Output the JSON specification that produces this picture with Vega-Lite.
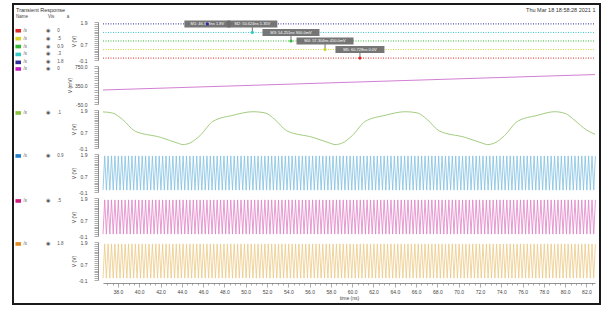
{
"$schema": "https://vega.github.io/schema/vega-lite/v6.json",
"width": 587, "height": 300,
"autosize": {"type": "none"},
"padding": {"left": 13, "top": 4, "right": 7, "bottom": 5},
"background": "white",
"title": {"text": "Transient Response", "anchor": "start", "frame": "group", "offset": -9, "dx": 3, "fontSize": 5.5, "fontWeight": "normal", "color": "#333", "font": "Liberation Sans"},
"config": {
  "view": {"stroke": "#1a1a1a", "strokeWidth": 2},
  "font": "Liberation Sans",
  "axis": {"grid": false, "labelFontSize": 5, "titleFontSize": 5, "titleFontWeight": "normal", "labelColor": "#444", "titleColor": "#444", "domainColor": "#777", "tickColor": "#777", "domainWidth": 0.8, "tickWidth": 0.6, "labelOverlap": false, "labelFlush": false, "labelBound": false},
  "legend": {"padding": 0, "labelFontSize": 4.5, "labelColor": "#555", "symbolSize": 16, "symbolType": "M-1.4,-0.9H1.4V0.9H-1.4Z", "labelOffset": 3, "rowPadding": 1.9, "titleFontSize": 4.5, "titleFontWeight": "normal", "titleColor": "#444", "symbolStrokeWidth": 0}
},
"datasets": {
  "lv": [{"s":"b","t":36.6,"v":1.8},{"s":"b","t":82.8,"v":1.8},{"s":"c","t":36.6,"v":1.35},{"s":"c","t":82.8,"v":1.35},{"s":"g","t":36.6,"v":0.9},{"s":"g","t":82.8,"v":0.9},{"s":"y","t":36.6,"v":0.45},{"s":"y","t":82.8,"v":0.45},{"s":"r","t":36.6,"v":0},{"s":"r","t":82.8,"v":0}],
  "mk": [{"m":"M1","s":"b","t":46.4,"v":1.8,"lab":"M1: 46.578ns 1.8V"},{"m":"M2","s":"c","t":50.624,"v":1.35,"lab":"M2: 50.624ns 1.35V"},{"m":"M3","s":"g","t":54.251,"v":0.9,"lab":"M3: 54.251ns 900.0mV"},{"m":"M4","s":"y","t":57.45,"v":0.45,"lab":"M4: 57.304ns 450.0mV"},{"m":"M5","s":"r","t":60.728,"v":0,"lab":"M5: 60.728ns 0.0V"}],
  "p2": [{"t":36.6,"v":245},{"t":82.8,"v":570}],
  "p3": [{"t":36.6,"v":1.8},{"t":37.5,"v":1.74},{"t":38.44,"v":1.4},{"t":39.57,"v":0.8},{"t":42.01,"v":0.46},{"t":43.7,"v":0.14},{"t":44.08,"v":0.08},{"t":44.76,"v":0.16},{"t":45.7,"v":0.55},{"t":46.92,"v":1.3},{"t":48.8,"v":1.62},{"t":50.68,"v":1.81},{"t":51.8,"v":1.75},{"t":52.74,"v":1.4},{"t":53.87,"v":0.8},{"t":56.31,"v":0.46},{"t":58.0,"v":0.14},{"t":58.38,"v":0.08},{"t":59.06,"v":0.16},{"t":60.0,"v":0.55},{"t":61.22,"v":1.3},{"t":63.1,"v":1.62},{"t":64.98,"v":1.81},{"t":66.1,"v":1.75},{"t":67.04,"v":1.4},{"t":68.17,"v":0.8},{"t":70.61,"v":0.46},{"t":72.3,"v":0.14},{"t":72.68,"v":0.08},{"t":73.36,"v":0.16},{"t":74.3,"v":0.55},{"t":75.52,"v":1.3},{"t":77.4,"v":1.62},{"t":79.0,"v":1.81},{"t":80.0,"v":1.72},{"t":80.9,"v":1.35},{"t":82.0,"v":0.85},{"t":82.8,"v":0.62}],
  "osc": [
{"t":36.6,"v":0},{"t":36.76,"v":1.8},{"t":36.92,"v":0},{"t":37.08,"v":1.8},{"t":37.24,"v":0},{"t":37.4,"v":1.8},{"t":37.56,"v":0},{"t":37.72,"v":1.8},{"t":37.88,"v":0},{"t":38.04,"v":1.8},
{"t":38.2,"v":0},{"t":38.36,"v":1.8},{"t":38.52,"v":0},{"t":38.68,"v":1.8},{"t":38.84,"v":0},{"t":39,"v":1.8},{"t":39.16,"v":0},{"t":39.32,"v":1.8},{"t":39.48,"v":0},{"t":39.64,"v":1.8},
{"t":39.8,"v":0},{"t":39.96,"v":1.8},{"t":40.12,"v":0},{"t":40.28,"v":1.8},{"t":40.44,"v":0},{"t":40.6,"v":1.8},{"t":40.76,"v":0},{"t":40.92,"v":1.8},{"t":41.08,"v":0},{"t":41.24,"v":1.8},
{"t":41.4,"v":0},{"t":41.56,"v":1.8},{"t":41.72,"v":0},{"t":41.88,"v":1.8},{"t":42.04,"v":0},{"t":42.2,"v":1.8},{"t":42.36,"v":0},{"t":42.52,"v":1.8},{"t":42.68,"v":0},{"t":42.84,"v":1.8},
{"t":43,"v":0},{"t":43.16,"v":1.8},{"t":43.32,"v":0},{"t":43.48,"v":1.8},{"t":43.64,"v":0},{"t":43.8,"v":1.8},{"t":43.96,"v":0},{"t":44.12,"v":1.8},{"t":44.28,"v":0},{"t":44.44,"v":1.8},
{"t":44.6,"v":0},{"t":44.76,"v":1.8},{"t":44.92,"v":0},{"t":45.08,"v":1.8},{"t":45.24,"v":0},{"t":45.4,"v":1.8},{"t":45.56,"v":0},{"t":45.72,"v":1.8},{"t":45.88,"v":0},{"t":46.04,"v":1.8},
{"t":46.2,"v":0},{"t":46.36,"v":1.8},{"t":46.52,"v":0},{"t":46.68,"v":1.8},{"t":46.84,"v":0},{"t":47,"v":1.8},{"t":47.16,"v":0},{"t":47.32,"v":1.8},{"t":47.48,"v":0},{"t":47.64,"v":1.8},
{"t":47.8,"v":0},{"t":47.96,"v":1.8},{"t":48.12,"v":0},{"t":48.28,"v":1.8},{"t":48.44,"v":0},{"t":48.6,"v":1.8},{"t":48.76,"v":0},{"t":48.92,"v":1.8},{"t":49.08,"v":0},{"t":49.24,"v":1.8},
{"t":49.4,"v":0},{"t":49.56,"v":1.8},{"t":49.72,"v":0},{"t":49.88,"v":1.8},{"t":50.04,"v":0},{"t":50.2,"v":1.8},{"t":50.36,"v":0},{"t":50.52,"v":1.8},{"t":50.68,"v":0},{"t":50.84,"v":1.8},
{"t":51,"v":0},{"t":51.16,"v":1.8},{"t":51.32,"v":0},{"t":51.48,"v":1.8},{"t":51.64,"v":0},{"t":51.8,"v":1.8},{"t":51.96,"v":0},{"t":52.12,"v":1.8},{"t":52.28,"v":0},{"t":52.44,"v":1.8},
{"t":52.6,"v":0},{"t":52.76,"v":1.8},{"t":52.92,"v":0},{"t":53.08,"v":1.8},{"t":53.24,"v":0},{"t":53.4,"v":1.8},{"t":53.56,"v":0},{"t":53.72,"v":1.8},{"t":53.88,"v":0},{"t":54.04,"v":1.8},
{"t":54.2,"v":0},{"t":54.36,"v":1.8},{"t":54.52,"v":0},{"t":54.68,"v":1.8},{"t":54.84,"v":0},{"t":55,"v":1.8},{"t":55.16,"v":0},{"t":55.32,"v":1.8},{"t":55.48,"v":0},{"t":55.64,"v":1.8},
{"t":55.8,"v":0},{"t":55.96,"v":1.8},{"t":56.12,"v":0},{"t":56.28,"v":1.8},{"t":56.44,"v":0},{"t":56.6,"v":1.8},{"t":56.76,"v":0},{"t":56.92,"v":1.8},{"t":57.08,"v":0},{"t":57.24,"v":1.8},
{"t":57.4,"v":0},{"t":57.56,"v":1.8},{"t":57.72,"v":0},{"t":57.88,"v":1.8},{"t":58.04,"v":0},{"t":58.2,"v":1.8},{"t":58.36,"v":0},{"t":58.52,"v":1.8},{"t":58.68,"v":0},{"t":58.84,"v":1.8},
{"t":59,"v":0},{"t":59.16,"v":1.8},{"t":59.32,"v":0},{"t":59.48,"v":1.8},{"t":59.64,"v":0},{"t":59.8,"v":1.8},{"t":59.96,"v":0},{"t":60.12,"v":1.8},{"t":60.28,"v":0},{"t":60.44,"v":1.8},
{"t":60.6,"v":0},{"t":60.76,"v":1.8},{"t":60.92,"v":0},{"t":61.08,"v":1.8},{"t":61.24,"v":0},{"t":61.4,"v":1.8},{"t":61.56,"v":0},{"t":61.72,"v":1.8},{"t":61.88,"v":0},{"t":62.04,"v":1.8},
{"t":62.2,"v":0},{"t":62.36,"v":1.8},{"t":62.52,"v":0},{"t":62.68,"v":1.8},{"t":62.84,"v":0},{"t":63,"v":1.8},{"t":63.16,"v":0},{"t":63.32,"v":1.8},{"t":63.48,"v":0},{"t":63.64,"v":1.8},
{"t":63.8,"v":0},{"t":63.96,"v":1.8},{"t":64.12,"v":0},{"t":64.28,"v":1.8},{"t":64.44,"v":0},{"t":64.6,"v":1.8},{"t":64.76,"v":0},{"t":64.92,"v":1.8},{"t":65.08,"v":0},{"t":65.24,"v":1.8},
{"t":65.4,"v":0},{"t":65.56,"v":1.8},{"t":65.72,"v":0},{"t":65.88,"v":1.8},{"t":66.04,"v":0},{"t":66.2,"v":1.8},{"t":66.36,"v":0},{"t":66.52,"v":1.8},{"t":66.68,"v":0},{"t":66.84,"v":1.8},
{"t":67,"v":0},{"t":67.16,"v":1.8},{"t":67.32,"v":0},{"t":67.48,"v":1.8},{"t":67.64,"v":0},{"t":67.8,"v":1.8},{"t":67.96,"v":0},{"t":68.12,"v":1.8},{"t":68.28,"v":0},{"t":68.44,"v":1.8},
{"t":68.6,"v":0},{"t":68.76,"v":1.8},{"t":68.92,"v":0},{"t":69.08,"v":1.8},{"t":69.24,"v":0},{"t":69.4,"v":1.8},{"t":69.56,"v":0},{"t":69.72,"v":1.8},{"t":69.88,"v":0},{"t":70.04,"v":1.8},
{"t":70.2,"v":0},{"t":70.36,"v":1.8},{"t":70.52,"v":0},{"t":70.68,"v":1.8},{"t":70.84,"v":0},{"t":71,"v":1.8},{"t":71.16,"v":0},{"t":71.32,"v":1.8},{"t":71.48,"v":0},{"t":71.64,"v":1.8},
{"t":71.8,"v":0},{"t":71.96,"v":1.8},{"t":72.12,"v":0},{"t":72.28,"v":1.8},{"t":72.44,"v":0},{"t":72.6,"v":1.8},{"t":72.76,"v":0},{"t":72.92,"v":1.8},{"t":73.08,"v":0},{"t":73.24,"v":1.8},
{"t":73.4,"v":0},{"t":73.56,"v":1.8},{"t":73.72,"v":0},{"t":73.88,"v":1.8},{"t":74.04,"v":0},{"t":74.2,"v":1.8},{"t":74.36,"v":0},{"t":74.52,"v":1.8},{"t":74.68,"v":0},{"t":74.84,"v":1.8},
{"t":75,"v":0},{"t":75.16,"v":1.8},{"t":75.32,"v":0},{"t":75.48,"v":1.8},{"t":75.64,"v":0},{"t":75.8,"v":1.8},{"t":75.96,"v":0},{"t":76.12,"v":1.8},{"t":76.28,"v":0},{"t":76.44,"v":1.8},
{"t":76.6,"v":0},{"t":76.76,"v":1.8},{"t":76.92,"v":0},{"t":77.08,"v":1.8},{"t":77.24,"v":0},{"t":77.4,"v":1.8},{"t":77.56,"v":0},{"t":77.72,"v":1.8},{"t":77.88,"v":0},{"t":78.04,"v":1.8},
{"t":78.2,"v":0},{"t":78.36,"v":1.8},{"t":78.52,"v":0},{"t":78.68,"v":1.8},{"t":78.84,"v":0},{"t":79,"v":1.8},{"t":79.16,"v":0},{"t":79.32,"v":1.8},{"t":79.48,"v":0},{"t":79.64,"v":1.8},
{"t":79.8,"v":0},{"t":79.96,"v":1.8},{"t":80.12,"v":0},{"t":80.28,"v":1.8},{"t":80.44,"v":0},{"t":80.6,"v":1.8},{"t":80.76,"v":0},{"t":80.92,"v":1.8},{"t":81.08,"v":0},{"t":81.24,"v":1.8},
{"t":81.4,"v":0},{"t":81.56,"v":1.8},{"t":81.72,"v":0},{"t":81.88,"v":1.8},{"t":82.04,"v":0},{"t":82.2,"v":1.8},{"t":82.36,"v":0},{"t":82.52,"v":1.8},{"t":82.68,"v":0},{"t":82.84,"v":1.8}
  ]
},
"layer": [
  {
    "data": {"name": "lv"},
    "mark": {"type": "line", "strokeDash": [1, 1.5], "strokeWidth": 1},
    "encoding": {
      "x": {"field": "t", "type": "quantitative", "scale": {"domain": [36.6, 82.8], "range": [90, 582], "nice": false, "zero": false},
            "axis": {"orient": "top", "title": "Thu Mar 18 18:58:28 2021 1", "titleAnchor": "end", "domain": false, "ticks": false, "labels": false, "offset": -8, "titlePadding": 0, "titleFontSize": 5.5, "titleColor": "#333"}},
      "y": {"field": "v", "type": "quantitative", "scale": {"domain": [-0.1, 1.9], "range": [56, 18], "nice": false, "zero": false},
            "axis": {"orient": "left", "offset": -85, "title": "V (V)", "tickCount": 20, "tickSize": 4, "labelPadding": 7, "titlePadding": 2, "labelExpr": "abs(datum.value-1.9)<0.001||abs(datum.value-0.7)<0.001||abs(datum.value+0.1)<0.001 ? replace(format(datum.value,'.1f'),'\u2212','-') : ''"}},
      "color": {"field": "s", "type": "nominal", "scale": {"domain": ["r","y","g","c","b"], "range": ["#e02828","#d4d42a","#34b834","#34c8c8","#2c2c9c"]}, "legend": null}
    }
  },
  {
    "data": {"name": "mk"},
    "mark": {"type": "point", "filled": true, "size": 16, "color": "#6a6a6a", "opacity": 0.92, "strokeWidth": 0},
    "encoding": {
      "x": {"field": "t", "type": "quantitative", "scale": {"domain": [36.6, 82.8], "range": [90, 582], "nice": false, "zero": false}, "axis": null},
      "y": {"field": "v", "type": "quantitative", "scale": {"domain": [-0.1, 1.9], "range": [56, 18], "nice": false, "zero": false}, "axis": null},
      "shape": {"field": "m", "type": "nominal", "legend": null, "scale": {"domain": ["M1","M2","M3","M4","M5"], "range": ["M-11.5,-1.75H11.5V1.75H-11.5Z", "M-12.5,-6H12.5V-2.5H0.25V0H-0.25V-2.5H-12.5Z", "M-14.25,-6H14.25V-2.5H0.25V0H-0.25V-2.5H-14.25Z", "M-14.25,-6H14.25V-2.5H0.25V0H-0.25V-2.5H-14.25Z", "M-12.25,-6H12.25V-2.5H0.25V0H-0.25V-2.5H-12.25Z"]}}
    }
  },
  {
    "data": {"name": "mk"},
    "transform": [{"filter": "datum.m == 'M1'"}],
    "mark": {"type": "text", "fontSize": 4, "fill": "white", "align": "center", "baseline": "middle"},
    "encoding": {
      "x": {"field": "t", "type": "quantitative", "scale": {"domain": [36.6, 82.8], "range": [90, 582], "nice": false, "zero": false}, "axis": null},
      "y": {"field": "v", "type": "quantitative", "scale": {"domain": [-0.1, 1.9], "range": [56, 18], "nice": false, "zero": false}, "axis": null},
      "text": {"field": "lab"}
    }
  },
  {
    "data": {"name": "mk"},
    "transform": [{"filter": "datum.m != 'M1'"}],
    "mark": {"type": "text", "fontSize": 4, "fill": "white", "align": "center", "baseline": "middle", "dy": -8.5},
    "encoding": {
      "x": {"field": "t", "type": "quantitative", "scale": {"domain": [36.6, 82.8], "range": [90, 582], "nice": false, "zero": false}, "axis": null},
      "y": {"field": "v", "type": "quantitative", "scale": {"domain": [-0.1, 1.9], "range": [56, 18], "nice": false, "zero": false}, "axis": null},
      "text": {"field": "lab"}
    }
  },
  {
    "data": {"name": "mk"},
    "mark": {"type": "point", "filled": true, "size": 10, "opacity": 1, "strokeWidth": 0},
    "encoding": {
      "x": {"field": "t", "type": "quantitative", "scale": {"domain": [36.6, 82.8], "range": [90, 582], "nice": false, "zero": false}, "axis": null},
      "y": {"field": "v", "type": "quantitative", "scale": {"domain": [-0.1, 1.9], "range": [56, 18], "nice": false, "zero": false}, "axis": null},
      "color": {"field": "s", "type": "nominal", "scale": {"domain": ["r","y","g","c","b"], "range": ["#e02828","#d4d42a","#34b834","#34c8c8","#2c2c9c"]},
        "legend": {"orient": "none", "legendX": 3, "legendY": 9.5, "title": "Name\u00a0\u00a0\u00a0\u00a0\u00a0\u00a0\u00a0\u00a0\u00a0\u00a0\u00a0\u00a0\u00a0\u00a0\u00a0\u00a0Vis\u00a0\u00a0\u00a0\u00a0\u00a0\u00a0\u00a0\u00a0\u00a0\u00a0a", "titlePadding": 10.5,
          "labelExpr": "pad('/x', 17, '\u00a0') + '\u25c9' + pad('', 6, '\u00a0') + (datum.value=='r'?'0':datum.value=='y'?'.5':datum.value=='g'?'0.9':datum.value=='c'?'.3':'1.8')",
          "encode": {"symbols": {"update": {"size": {"value": 16}, "opacity": {"value": 1}, "strokeWidth": {"value": 0}}}}}}
    }
  },
  {
    "data": {"name": "p2"},
    "mark": {"type": "line", "strokeWidth": 1},
    "encoding": {
      "x": {"field": "t", "type": "quantitative", "scale": {"domain": [36.6, 82.8], "range": [90, 582], "nice": false, "zero": false}, "axis": null},
      "y": {"field": "v", "type": "quantitative", "scale": {"domain": [-50, 750], "range": [100, 62], "nice": false, "zero": false},
            "axis": {"orient": "left", "offset": -85, "title": "V (mV)", "tickCount": 16, "tickSize": 4, "labelPadding": 7, "titlePadding": 2, "labelExpr": "abs(datum.value-750)<0.01||abs(datum.value-350)<0.01||abs(datum.value+50)<0.01 ? replace(format(datum.value,'.1f'),'\u2212','-') : ''"}},
      "color": {"datum": "/x", "type": "nominal", "scale": {"range": ["#d27fd3"]},
        "legend": {"orient": "none", "legendX": 3, "legendY": 62.7, "title": null, "labelExpr": "pad('/x', 17, '\u00a0') + '\u25c9' + pad('', 6, '\u00a0') + '0'",
          "encode": {"symbols": {"update": {"fill": {"value": "#c21fc2"}, "stroke": {"value": "#c21fc2"}, "opacity": {"value": 1}, "strokeWidth": {"value": 0}}}}}}
    }
  },
  {
    "data": {"name": "p3"},
    "mark": {"type": "line", "strokeWidth": 1, "interpolate": "monotone"},
    "encoding": {
      "x": {"field": "t", "type": "quantitative", "scale": {"domain": [36.6, 82.8], "range": [90, 582], "nice": false, "zero": false}, "axis": null},
      "y": {"field": "v", "type": "quantitative", "scale": {"domain": [-0.1, 1.9], "range": [144, 106], "nice": false, "zero": false},
            "axis": {"orient": "left", "offset": -85, "title": "V (V)", "tickCount": 20, "tickSize": 4, "labelPadding": 7, "titlePadding": 2, "labelExpr": "abs(datum.value-1.9)<0.001||abs(datum.value-0.7)<0.001||abs(datum.value+0.1)<0.001 ? replace(format(datum.value,'.1f'),'\u2212','-') : ''"}},
      "color": {"datum": "/x", "type": "nominal", "scale": {"range": ["#a3cd80"]},
        "legend": {"orient": "none", "legendX": 3, "legendY": 106.7, "title": null, "labelExpr": "pad('/x', 17, '\u00a0') + '\u25c9' + pad('', 6, '\u00a0') + '.1'",
          "encode": {"symbols": {"update": {"fill": {"value": "#86c23a"}, "stroke": {"value": "#86c23a"}, "opacity": {"value": 1}, "strokeWidth": {"value": 0}}}}}}
    }
  },
  {
    "data": {"name": "osc"},
    "mark": {"type": "line", "strokeWidth": 0.8},
    "encoding": {
      "x": {"field": "t", "type": "quantitative", "scale": {"domain": [36.6, 82.8], "range": [90, 582], "nice": false, "zero": false}, "axis": null},
      "y": {"field": "v", "type": "quantitative", "scale": {"domain": [-0.1, 1.9], "range": [188, 150], "nice": false, "zero": false},
            "axis": {"orient": "left", "offset": -85, "title": "V (V)", "tickCount": 20, "tickSize": 4, "labelPadding": 7, "titlePadding": 2, "labelExpr": "abs(datum.value-1.9)<0.001||abs(datum.value-0.7)<0.001||abs(datum.value+0.1)<0.001 ? replace(format(datum.value,'.1f'),'\u2212','-') : ''"}},
      "color": {"datum": "/x", "type": "nominal", "scale": {"range": ["#82c0e2"]},
        "legend": {"orient": "none", "legendX": 3, "legendY": 149.7, "title": null, "labelExpr": "pad('/x', 17, '\u00a0') + '\u25c9' + pad('', 6, '\u00a0') + '0.9'",
          "encode": {"symbols": {"update": {"fill": {"value": "#1f7fc8"}, "stroke": {"value": "#1f7fc8"}, "opacity": {"value": 1}, "strokeWidth": {"value": 0}}}}}}
    }
  },
  {
    "data": {"name": "osc"},
    "mark": {"type": "line", "strokeWidth": 0.8},
    "encoding": {
      "x": {"field": "t", "type": "quantitative", "scale": {"domain": [36.6, 82.8], "range": [90, 582], "nice": false, "zero": false}, "axis": null},
      "y": {"field": "v", "type": "quantitative", "scale": {"domain": [-0.1, 1.9], "range": [232, 194], "nice": false, "zero": false},
            "axis": {"orient": "left", "offset": -85, "title": "V (V)", "tickCount": 20, "tickSize": 4, "labelPadding": 7, "titlePadding": 2, "labelExpr": "abs(datum.value-1.9)<0.001||abs(datum.value-0.7)<0.001||abs(datum.value+0.1)<0.001 ? replace(format(datum.value,'.1f'),'\u2212','-') : ''"}},
      "color": {"datum": "/x", "type": "nominal", "scale": {"range": ["#df82c6"]},
        "legend": {"orient": "none", "legendX": 3, "legendY": 194.7, "title": null, "labelExpr": "pad('/x', 17, '\u00a0') + '\u25c9' + pad('', 6, '\u00a0') + '.5'",
          "encode": {"symbols": {"update": {"fill": {"value": "#d2187e"}, "stroke": {"value": "#d2187e"}, "opacity": {"value": 1}, "strokeWidth": {"value": 0}}}}}}
    }
  },
  {
    "data": {"name": "osc"},
    "mark": {"type": "line", "strokeWidth": 0.8},
    "encoding": {
      "x": {"field": "t", "type": "quantitative", "scale": {"domain": [36.6, 82.8], "range": [90, 582], "nice": false, "zero": false},
            "axis": {"orient": "bottom", "offset": -21, "title": "time (ns)", "tickCount": 92, "labelExpr": "datum.value % 2 == 0 ? format(datum.value, '.1f') : ''", "tickSize": {"condition": {"test": "datum.value % 2 == 0", "value": 4}, "value": 2}, "labelPadding": 2, "titlePadding": 1}},
      "y": {"field": "v", "type": "quantitative", "scale": {"domain": [-0.1, 1.9], "range": [276, 238], "nice": false, "zero": false},
            "axis": {"orient": "left", "offset": -85, "title": "V (V)", "tickCount": 20, "tickSize": 4, "labelPadding": 7, "titlePadding": 2, "labelExpr": "abs(datum.value-1.9)<0.001||abs(datum.value-0.7)<0.001||abs(datum.value+0.1)<0.001 ? replace(format(datum.value,'.1f'),'\u2212','-') : ''"}},
      "color": {"datum": "/x", "type": "nominal", "scale": {"range": ["#ecc985"]},
        "legend": {"orient": "none", "legendX": 3, "legendY": 237.7, "title": null, "labelExpr": "pad('/x', 17, '\u00a0') + '\u25c9' + pad('', 6, '\u00a0') + '1.8'",
          "encode": {"symbols": {"update": {"fill": {"value": "#e08a22"}, "stroke": {"value": "#e08a22"}, "opacity": {"value": 1}, "strokeWidth": {"value": 0}}}}}}
    }
  }
],
"resolve": {
  "scale": {"x": "shared", "y": "independent", "color": "independent", "shape": "independent"},
  "axis": {"x": "independent", "y": "independent"},
  "legend": {"color": "independent", "shape": "independent"}
}
}
